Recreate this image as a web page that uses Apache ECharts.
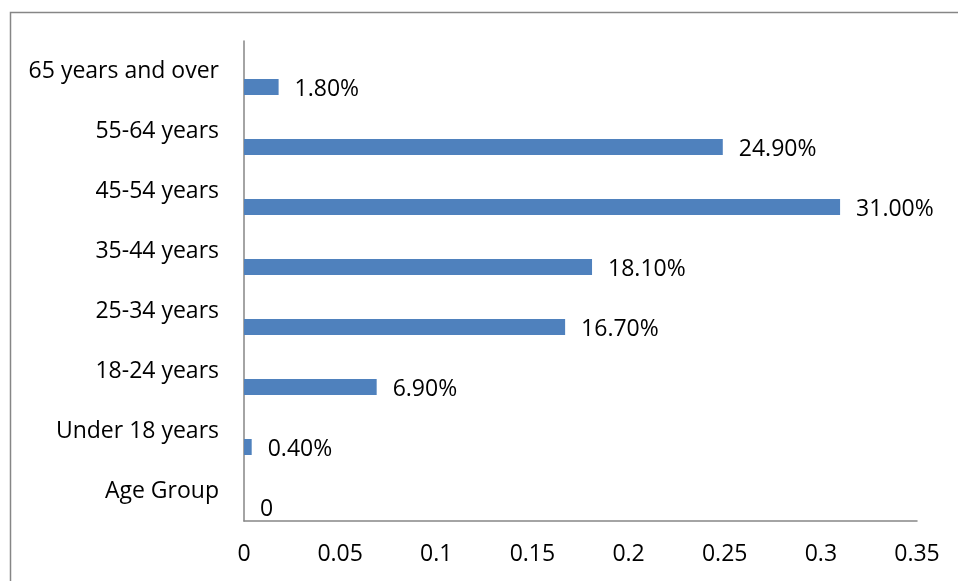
<!DOCTYPE html>
<html><head><meta charset="utf-8">
<script src="https://cdn.jsdelivr.net/npm/echarts@6/dist/echarts.min.js"></script>
<style>html,body{margin:0;padding:0;background:#fff}#c{width:958px;height:581px}</style>
</head><body><div id="c"></div>
<script>
const categories = ['Age Group','Under 18 years','18-24 years','25-34 years','35-44 years','45-54 years','55-64 years','65 years and over'];
const values = [0, 0.004, 0.069, 0.167, 0.181, 0.31, 0.249, 0.018];
const xTicks = [0, 0.05, 0.1, 0.15, 0.2, 0.25, 0.3, 0.35];
const font = 'Open Sans';
const chart = echarts.init(document.getElementById('c'), null, {renderer:'canvas'});
chart.setOption({
  animation:false,
  graphic:[{type:'rect',shape:{x:10.5,y:12.5,width:1000,height:1000},style:{fill:null,stroke:'#868686',lineWidth:1.5},silent:true}],
  grid:{left:244,right:41,top:41,bottom:60,containLabel:false},
  xAxis:{type:'value',min:0,max:0.35,interval:0.05,
    axisLine:{show:true,lineStyle:{color:'#868686',width:1.5}},axisTick:{show:false},splitLine:{show:false},
    axisLabel:{color:'#000',fontFamily:font,fontSize:23,margin:22,formatter:v=>String(+v.toFixed(2))}},
  yAxis:{type:'category',data:categories,
    axisLine:{show:true,lineStyle:{color:'#868686',width:1.5}},axisTick:{show:false},
    axisLabel:{color:'#000',fontFamily:font,fontSize:23,margin:25,padding:[4,0,0,0]}},
  series:[
    {type:'bar',data:values.map(()=>null),barWidth:16,barGap:'100%'},
    {type:'bar',data:values,barWidth:16,barGap:'100%',itemStyle:{color:'#4F81BD'},
     label:{show:true,position:'right',distance:16,offset:[0,2],color:'#000',fontFamily:font,fontSize:23,
       formatter:p=>p.value===0?'0':(p.value*100).toFixed(2)+'%'}}
  ]
});
</script></body></html>
